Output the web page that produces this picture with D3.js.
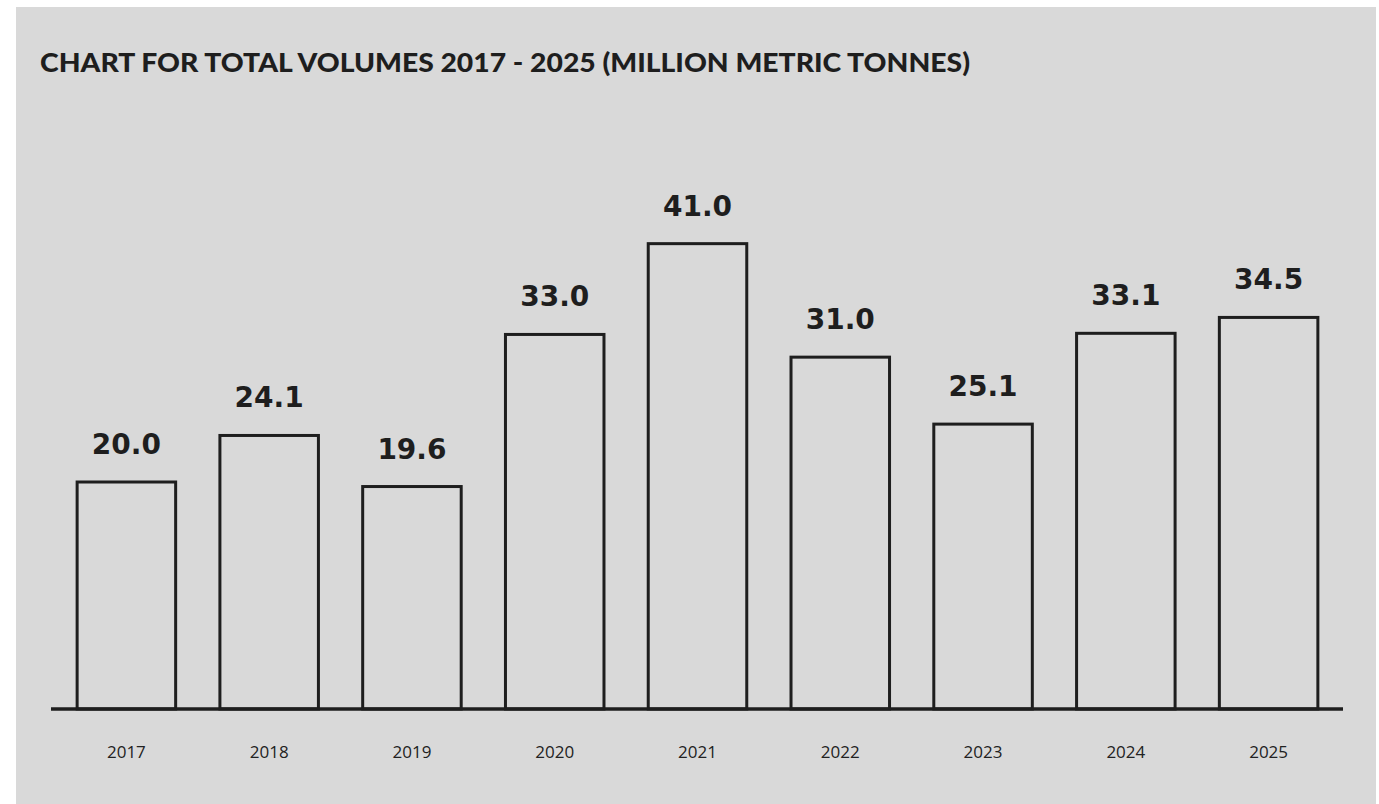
<!DOCTYPE html>
<html>
<head>
<meta charset="utf-8">
<script src="https://cdn.jsdelivr.net/npm/d3@7"></script>
<style>
  html, body { margin: 0; padding: 0; background: #ffffff; }
  svg { display: block; }
</style>
</head>
<body>
<svg id="chart" width="1379" height="804"></svg>
<script>
// Total volumes per year, million metric tonnes
const years = ["2017", "2018", "2019", "2020", "2021", "2022", "2023", "2024", "2025"];
const volumes = [20.0, 24.1, 19.6, 33.0, 41.0, 31.0, 25.1, 33.1, 34.5];
const titleText = "CHART FOR TOTAL VOLUMES 2017 - 2025 (MILLION METRIC TONNES)";

const ink = "#1e1e1e";
const svg = d3.select("#chart");

// panel background
svg.append("rect")
  .attr("x", 16).attr("y", 7)
  .attr("width", 1360).attr("height", 797)
  .attr("fill", "#d9d9d9");

svg.append("text")
  .attr("x", 40).attr("y", 72)
  .attr("font-family", "Lato, 'Open Sans', sans-serif")
  .attr("font-weight", 900)
  .attr("font-size", 27)
  .attr("fill", ink)
  .attr("textLength", 930)
  .attr("lengthAdjust", "spacingAndGlyphs")
  .text(titleText);

const x = d3.scaleBand()
  .domain(years)
  .range([55, 1340])
  .paddingInner(0.31)
  .paddingOuter(0.155);

const y = d3.scaleLinear()
  .domain([0, 45])
  .range([709, 709 - 45 * 11.35]);

const data = years.map((yr, i) => ({ year: yr, value: volumes[i] }));

// bars: outlined, no fill
svg.append("g")
  .selectAll("rect")
  .data(data)
  .join("rect")
  .attr("x", d => x(d.year))
  .attr("y", d => y(d.value))
  .attr("width", x.bandwidth())
  .attr("height", d => y(0) - y(d.value))
  .attr("fill", "none")
  .attr("stroke", ink)
  .attr("stroke-width", 3);

// value labels
svg.append("g")
  .selectAll("text")
  .data(data)
  .join("text")
  .attr("x", d => x(d.year) + x.bandwidth() / 2)
  .attr("y", d => y(d.value) - 28)
  .attr("text-anchor", "middle")
  .attr("font-family", "'DejaVu Sans', sans-serif")
  .attr("font-weight", 700)
  .attr("font-size", 28)
  .attr("fill", ink)
  .text(d => d.value.toFixed(1));

// x axis
const xAxis = svg.append("g")
  .attr("transform", `translate(0,${y(0)})`)
  .call(d3.axisBottom(x).tickSize(0).tickPadding(37));
xAxis.select(".domain")
  .attr("d", "M51,0H1343")
  .attr("stroke", ink)
  .attr("stroke-width", 3.5);
xAxis.selectAll("text")
  .attr("font-family", "'Open Sans', Lato, sans-serif")
  .attr("font-size", 17)
  .attr("fill", "#222");
</script>
</body>
</html>
